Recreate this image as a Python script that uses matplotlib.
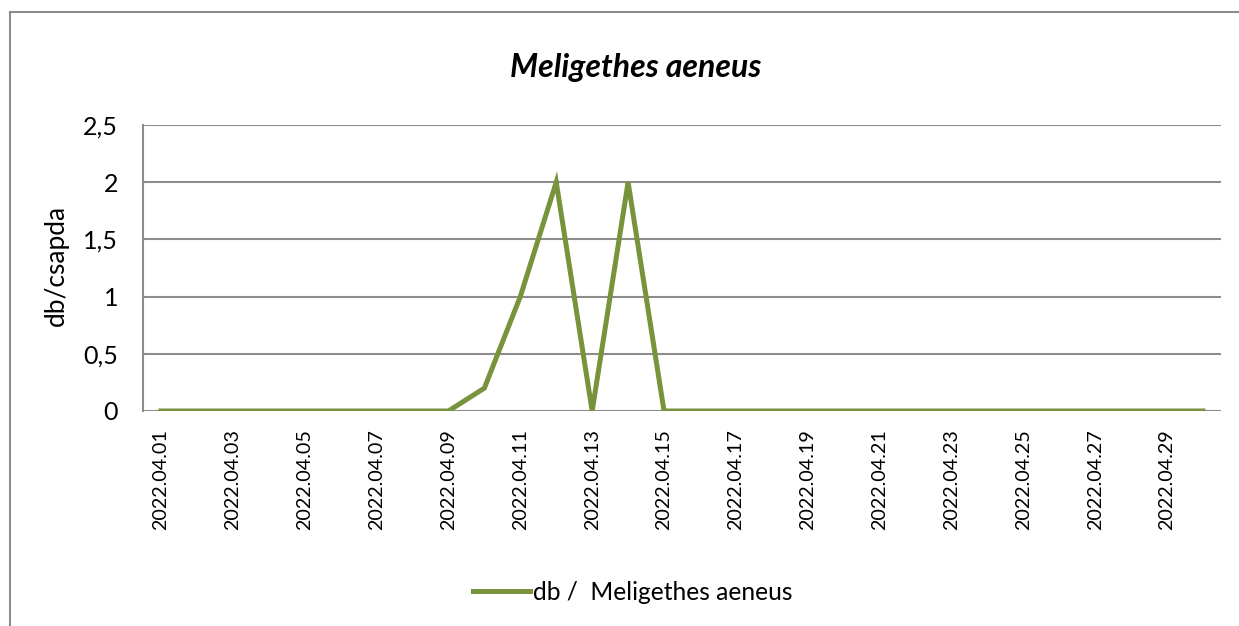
import matplotlib.pyplot as plt
from matplotlib.patches import Rectangle

dates = [f"2022.04.{d:02d}" for d in range(1, 31)]
counts = [0, 0, 0, 0, 0, 0, 0, 0, 0, 0.2,
          1, 2, 0, 2, 0, 0, 0, 0, 0, 0,
          0, 0, 0, 0, 0, 0, 0, 0, 0, 0]
series_name = "db /  Meligethes aeneus"
title = "Meligethes aeneus"

plt.rcParams["font.family"] = ["Lato", "DejaVu Sans"]

W, H = 1239, 626
fig = plt.figure(figsize=(W / 100, H / 100), dpi=100)
ax = fig.add_axes([143 / W, 1 - 411 / H, (1221 - 143) / W, (411 - 125) / H])

# outer chart border (clipped at right/bottom like the reference)
fig.patches.append(Rectangle((10 / W, -0.1), 1.2, 1 - 12 / H + 0.1,
                             transform=fig.transFigure, fill=False,
                             edgecolor="#8c8c8c", linewidth=1.5))

x = list(range(len(dates)))
ax.plot(x, counts, color="#77933C", linewidth=3.6, solid_joinstyle="miter",
        label=series_name)

ax.set_xlim(-0.5, len(dates) - 0.5)
ax.set_ylim(0, 2.5)
ax.set_yticks([0, 0.5, 1, 1.5, 2, 2.5])
ax.set_yticklabels(["0", "0,5", "1", "1,5", "2", "2,5"])
ax.set_xticks(x[::2])
ax.set_xticklabels(dates[::2], rotation=90)
ax.tick_params(axis="both", length=0)
ax.tick_params(axis="x", pad=13, labelsize=14.2)
ax.tick_params(axis="y", pad=18, labelsize=18)

ax.grid(axis="y", color="#8c8c8c", linewidth=1.5)
ax.set_axisbelow(True)
for s in ["top", "right", "bottom"]:
    ax.spines[s].set_visible(False)
ax.spines["left"].set_color("#8c8c8c")
ax.spines["left"].set_linewidth(1.5)

ax.set_ylabel("db/csapda", fontsize=19)
ax.yaxis.set_label_coords(-0.069, 0.51)
fig.text(636 / W, 1 - 68 / H, title, ha="center", va="center",
         fontsize=23, fontweight="bold", fontstyle="italic")

fig.legend(loc="center", bbox_to_anchor=(633 / W, 1 - 592 / H), frameon=False,
           fontsize=17.7, handlelength=2.3, handletextpad=0.15)

fig.savefig("out.png", dpi=100)
